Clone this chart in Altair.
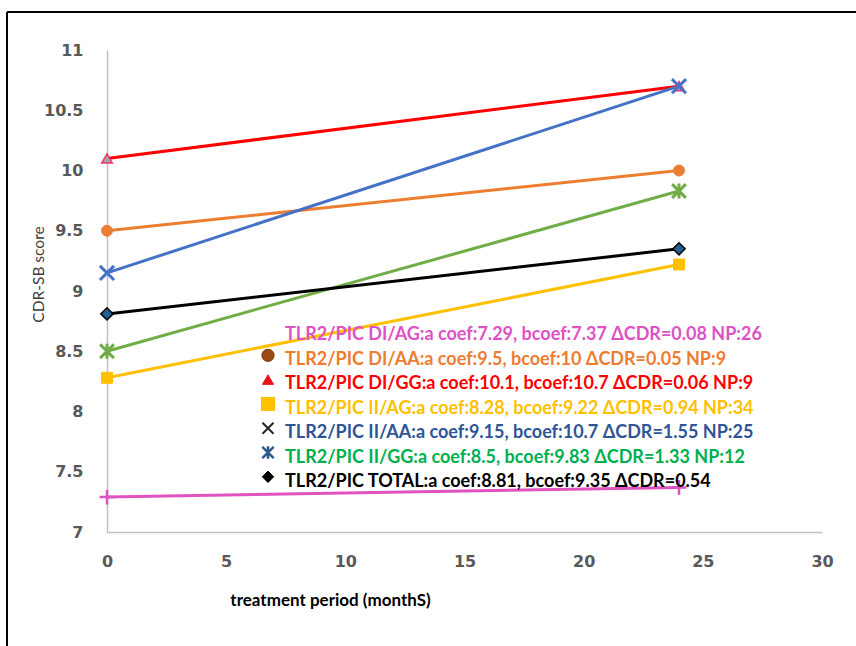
import altair as alt
import pandas as pd

# ---------------- data ----------------
series = ["DI/AG", "DI/AA", "DI/GG", "II/AG", "II/AA", "II/GG", "TOTAL"]
a_coef = [7.29, 9.5, 10.1, 8.28, 9.15, 8.5, 8.81]
b_coef = [7.37, 10.0, 10.7, 9.22, 10.7, 9.83, 9.35]
months = [0, 24]
legend_labels = [
    "TLR2/PIC DI/AG:a coef:7.29, bcoef:7.37 ΔCDR=0.08  NP:26",
    "TLR2/PIC DI/AA:a coef:9.5, bcoef:10 ΔCDR=0.05  NP:9",
    "TLR2/PIC DI/GG:a coef:10.1, bcoef:10.7 ΔCDR=0.06 NP:9",
    "TLR2/PIC II/AG:a coef:8.28, bcoef:9.22 ΔCDR=0.94  NP:34",
    "TLR2/PIC II/AA:a coef:9.15, bcoef:10.7 ΔCDR=1.55 NP:25",
    "TLR2/PIC II/GG:a coef:8.5, bcoef:9.83 ΔCDR=1.33  NP:12",
    "TLR2/PIC TOTAL:a coef:8.81, bcoef:9.35 ΔCDR=0.54",
]
y_ticks = [7, 7.5, 8, 8.5, 9, 9.5, 10, 10.5, 11]
x_ticks = [0, 5, 10, 15, 20, 25, 30]

# ---------------- styles ----------------
line_colors = ["#E052BE", "#ED7D31", "#FF0000", "#FFC000", "#4472C4", "#70AD47", "#000000"]
PLUS = "M-1,0L1,0M0,-1L0,1"
XSHAPE = "M-1,-1L1,1M-1,1L1,-1"
STAR = "M-1,-1L1,1M-1,1L1,-1M0,-1.1L0,1.1"
m_shape = [PLUS, "circle", "triangle-up", "square", XSHAPE, STAR, "diamond"]
m_fill = ["transparent", "#ED7D31", "#A5A5A5", "#FFC000", "transparent", "transparent", "#255E91"]
m_stroke = ["#E052BE", "#ED7D31", "#F0306A", "#FFC000", "#4472C4", "#70AD47", "#000000"]
m_size = [220, 120, 110, 120, 200, 190, 150]
m_sw = [2.5, 1, 1.5, 1, 3, 3, 1.5]

legend_text_colors = ["#DD52C5", "#ED7D31", "#FF0000", "#FFC000", "#2F5597", "#00B050", "#000000"]
leg_sym_shape = ["", "circle", "triangle-up", "square", XSHAPE, STAR, "diamond"]
leg_sym_fill = ["transparent", "#9C4A14", "#E8101A", "#FFC000", "transparent", "transparent", "#000000"]
leg_sym_stroke = ["transparent", "#7A3A10", "#E8101A", "#FFC000", "#262626", "#2E5A8A", "#000000"]
leg_sym_sw = [0, 1, 1, 1, 2, 2.5, 1]
leg_sym_size = [0, 150, 120, 170, 120, 130, 130]

rows = []
for i, s in enumerate(series):
    for m, v in zip(months, [a_coef[i], b_coef[i]]):
        rows.append({"series": s, "order": i, "month": m, "value": v,
                     "color": line_colors[i], "shape": m_shape[i], "fill": m_fill[i],
                     "stroke": m_stroke[i], "size": m_size[i], "sw": m_sw[i]})
df = pd.DataFrame(rows)

leg = pd.DataFrame({
    "i": list(range(len(legend_labels))),
    "label": legend_labels,
    "tcolor": legend_text_colors,
    "shape": leg_sym_shape,
    "fill": leg_sym_fill,
    "stroke": leg_sym_stroke,
    "sw": leg_sym_sw,
    "size": leg_sym_size,
})

W, H = 715, 482
TITLE_FONT = "Lato"

xs = alt.Scale(domain=[0, 30], nice=False, zero=False)
ys = alt.Scale(domain=[7, 11], nice=False, zero=False)

x_enc = alt.X("month:Q", scale=xs, axis=alt.Axis(
    values=x_ticks, format="~g", ticks=False, grid=False, labelFlush=False,
    domainColor="#BFBFBF", domainWidth=1.5,
    labelFont="DejaVu Sans", labelFontWeight="bold", labelFontSize=16,
    labelColor="#595959", labelPadding=21,
    title="treatment period (monthS)", titleFont=TITLE_FONT, titleFontSize=17,
    titleFontWeight="bold", titleColor="#000000",
    titleX=223, titleY=68, titleAlign="center", titleBaseline="middle", titleAnchor="start"))
y_enc = alt.Y("value:Q", scale=ys, axis=alt.Axis(
    values=y_ticks, format="~g", ticks=False, grid=False, labelFlush=False,
    domainColor="#BFBFBF", domainWidth=1.5,
    labelFont="DejaVu Sans", labelFontWeight="bold", labelFontSize=16,
    labelColor="#595959", labelPadding=24,
    title="CDR-SB score", titleFont=TITLE_FONT, titleFontSize=15.5,
    titleFontWeight="normal", titleColor="#404040",
    titleX=-69, titleY=224, titleAngle=270, titleAlign="center",
    titleBaseline="middle", titleAnchor="start"))

lines = alt.Chart(df).mark_line(strokeWidth=3).encode(
    x=x_enc, y=y_enc, detail="series:N",
    color=alt.Color("color:N", scale=None), order="month:Q")

points = alt.Chart(df).mark_point(opacity=1).encode(
    x="month:Q", y="value:Q",
    shape=alt.Shape("shape:N", scale=None),
    fill=alt.Fill("fill:N", scale=None),
    stroke=alt.Stroke("stroke:N", scale=None),
    size=alt.Size("size:Q", scale=None),
    strokeWidth=alt.StrokeWidth("sw:Q", scale=None))

leg_text = alt.Chart(leg).mark_text(
    align="left", baseline="middle", font="Lato", fontWeight="bold", fontSize=18
).transform_calculate(py="285 + datum.i * 24.5").encode(
    x=alt.value(178), y=alt.Y("py:Q", scale=None),
    text="label:N", color=alt.Color("tcolor:N", scale=None))

leg_sym = alt.Chart(leg).mark_point(opacity=1).transform_filter(
    "datum.i > 0").transform_calculate(py="281 + datum.i * 24.3").encode(
    x=alt.value(161), y=alt.Y("py:Q", scale=None),
    shape=alt.Shape("shape:N", scale=None),
    fill=alt.Fill("fill:N", scale=None),
    stroke=alt.Stroke("stroke:N", scale=None),
    size=alt.Size("size:Q", scale=None),
    strokeWidth=alt.StrokeWidth("sw:Q", scale=None))

frame = pd.DataFrame({"k": [0]})
top_rule = alt.Chart(frame).mark_rule(color="#000000", strokeWidth=2).encode(
    x=alt.value(-100), x2=alt.value(760), y=alt.value(-38))
left_rule = alt.Chart(frame).mark_rule(color="#000000", strokeWidth=2).encode(
    x=alt.value(-100), y=alt.value(-38), y2=alt.value(610))

chart = alt.layer(lines, points, leg_text, leg_sym, top_rule, left_rule).properties(
    width=W, height=H,
    autosize=alt.AutoSizeParams(type="none"),
    padding={"left": 107, "top": 50, "right": 34, "bottom": 114},
    background="white",
).configure_view(stroke=None)

chart.save("out.html", embed_options={"renderer": "svg", "actions": False})
